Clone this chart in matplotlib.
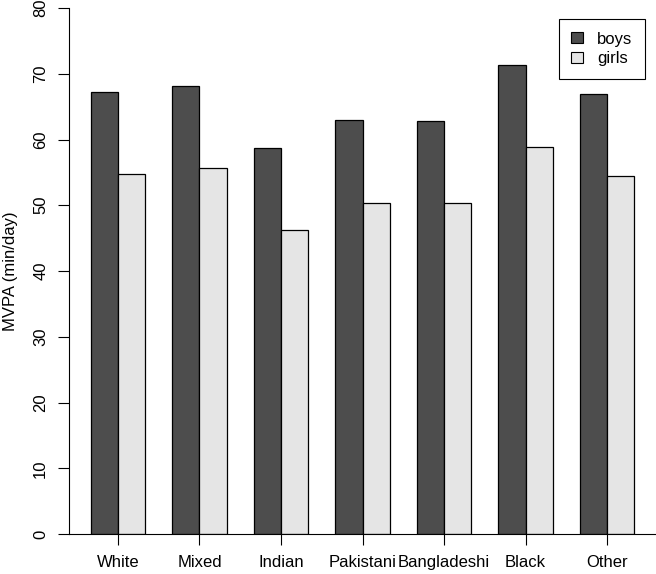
import matplotlib
matplotlib.use("Agg")
import matplotlib.pyplot as plt
from matplotlib.patches import Patch

plt.rcParams['font.family'] = ['Liberation Sans', 'DejaVu Sans']

groups = ["White", "Mixed", "Indian", "Pakistani", "Bangladeshi", "Black", "Other"]
boys = [67.2, 68.1, 58.7, 62.9, 62.8, 71.3, 66.9]
girls = [54.7, 55.6, 46.3, 50.4, 50.3, 58.8, 54.4]

col_boys = "#4d4d4d"
col_girls = "#e5e5e5"
fs = 12

fig = plt.figure(figsize=(6.56, 5.74), dpi=100)
ax = fig.add_axes([69 / 656, 40 / 574, 587 / 656, 526 / 574])

# R-style beside barplot: width 1, space c(0, 1)
left_b = [1 + 3 * i for i in range(len(groups))]
left_g = [2 + 3 * i for i in range(len(groups))]
centers = [2 + 3 * i for i in range(len(groups))]

ax.bar(left_b, boys, width=1, align='edge', color=col_boys, edgecolor='black', linewidth=0.9)
ax.bar(left_g, girls, width=1, align='edge', color=col_girls, edgecolor='black', linewidth=0.9)

ax.set_xlim(0.2, 21.8)
ax.set_ylim(0, 80)
ax.set_xticks(centers)
ax.set_xticklabels(groups, fontsize=fs)
ax.set_yticks(range(0, 81, 10))
ax.set_yticklabels([str(v) for v in range(0, 81, 10)], fontsize=fs, rotation=90, va='center')
ax.tick_params(axis='x', length=8, width=0.8, pad=7)
ax.tick_params(axis='y', length=8, width=0.8, pad=7)

for s in ['top', 'right']:
    ax.spines[s].set_visible(False)
ax.spines['left'].set_linewidth(0.8)
ax.spines['bottom'].set_linewidth(0.8)

ax.set_ylabel("MVPA (min/day)", fontsize=fs, labelpad=11)

handles = [Patch(facecolor=col_boys, edgecolor='black', linewidth=0.8, label='boys'),
           Patch(facecolor=col_girls, edgecolor='black', linewidth=0.8, label='girls')]
leg = ax.legend(handles=handles, loc='upper right', bbox_to_anchor=(0.981, 0.979),
                borderaxespad=0, fontsize=fs, fancybox=False, framealpha=1,
                edgecolor='black', handlelength=0.7, handleheight=0.6,
                handletextpad=0.85, borderpad=0.75, labelspacing=0.28)
leg.get_frame().set_linewidth(0.8)

fig.savefig("out.png", dpi=100)
